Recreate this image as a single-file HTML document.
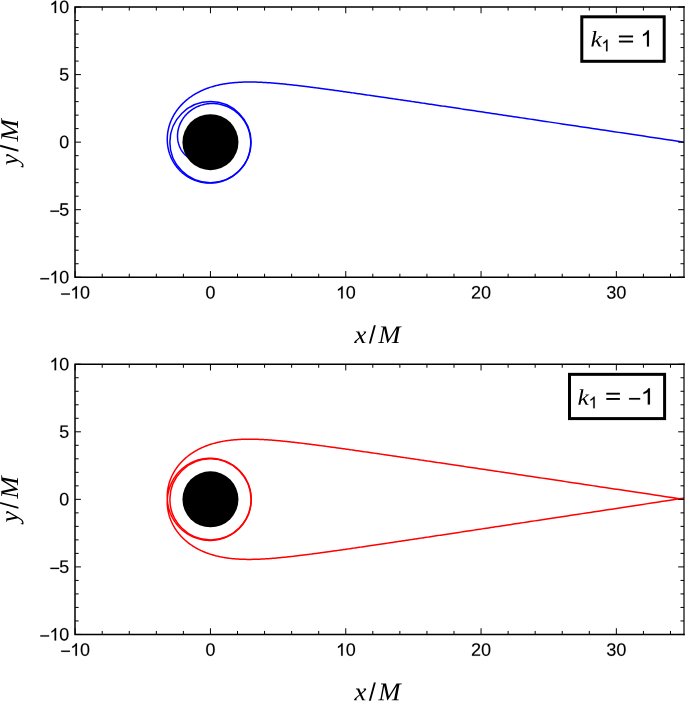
<!DOCTYPE html>
<html><head><meta charset="utf-8"><style>
html,body{margin:0;padding:0;background:#fff;}
body{width:685px;height:701px;overflow:hidden;position:relative;}
svg{position:absolute;left:0;top:0;}
</style></head><body>
<svg width="685" height="701" viewBox="0 0 685 701">
<defs><path id="g0" d="M101 439L1096 439L1096 585L101 585Z"/><path id="g1" d="M793 0L613 0L613 1100Q548 1040 442 980Q336 920 253 890L253 1060Q402 1127 514 1223Q626 1319 673 1409L793 1409Z"/><path id="g2" d="M1059 705Q1059 352 934.5 166.0Q810 -20 567 -20Q324 -20 202.0 165.0Q80 350 80 705Q80 1068 198.5 1249.0Q317 1430 573 1430Q822 1430 940.5 1247.0Q1059 1064 1059 705ZM876 705Q876 1010 805.5 1147.0Q735 1284 573 1284Q407 1284 334.5 1149.0Q262 1014 262 705Q262 405 335.5 266.0Q409 127 569 127Q728 127 802.0 269.0Q876 411 876 705Z"/><path id="g3" d="M103 0V127Q154 244 227.5 333.5Q301 423 382.0 495.5Q463 568 542.5 630.0Q622 692 686.0 754.0Q750 816 789.5 884.0Q829 952 829 1038Q829 1154 761.0 1218.0Q693 1282 572 1282Q457 1282 382.5 1219.5Q308 1157 295 1044L111 1061Q131 1230 254.5 1330.0Q378 1430 572 1430Q785 1430 899.5 1329.5Q1014 1229 1014 1044Q1014 962 976.5 881.0Q939 800 865.0 719.0Q791 638 582 468Q467 374 399.0 298.5Q331 223 301 153H1036V0Z"/><path id="g4" d="M1049 389Q1049 194 925.0 87.0Q801 -20 571 -20Q357 -20 229.5 76.5Q102 173 78 362L264 379Q300 129 571 129Q707 129 784.5 196.0Q862 263 862 395Q862 510 773.5 574.5Q685 639 518 639H416V795H514Q662 795 743.5 859.5Q825 924 825 1038Q825 1151 758.5 1216.5Q692 1282 561 1282Q442 1282 368.5 1221.0Q295 1160 283 1049L102 1063Q122 1236 245.5 1333.0Q369 1430 563 1430Q775 1430 892.5 1331.5Q1010 1233 1010 1057Q1010 922 934.5 837.5Q859 753 715 723V719Q873 702 961.0 613.0Q1049 524 1049 389Z"/><path id="g5" d="M1053 459Q1053 236 920.5 108.0Q788 -20 553 -20Q356 -20 235.0 66.0Q114 152 82 315L264 336Q321 127 557 127Q702 127 784.0 214.5Q866 302 866 455Q866 588 783.5 670.0Q701 752 561 752Q488 752 425.0 729.0Q362 706 299 651H123L170 1409H971V1256H334L307 809Q424 899 598 899Q806 899 929.5 777.0Q1053 655 1053 459Z"/><path id="g6" d="M142 84Q142 56 184 45L176 0H-9Q-25 13 -25 43Q-25 71 6.5 112.0Q38 153 112 221L385 475L213 870L106 895L114 940H362L507 582L631 700Q695 761 721.0 796.0Q747 831 747 856Q747 866 738.0 873.5Q729 881 688 895L696 940H873Q894 924 894 897Q894 838 756 707L542 506L734 66L850 45L842 0H586L419 400L248 236Q193 183 167.5 148.5Q142 114 142 84Z"/><path id="g7" d="M721 0H686L455 1153L266 80L442 53L432 0H-24L-14 53L161 80L370 1262L202 1288L212 1341H594L800 318L1398 1341H1800L1790 1288L1614 1262L1405 80L1573 53L1563 0H1019L1029 53L1213 80L1402 1153Z"/><path id="g8" d="M52 940H308L453 208L688 614Q752 726 752 807Q752 844 731.0 866.0Q710 888 686 895L694 940H884Q910 917 910 877Q910 798 827 657L431 -10Q317 -204 250.5 -285.0Q184 -366 119.0 -404.0Q54 -442 -22 -442Q-103 -442 -171 -424L-134 -221H-89L-73 -317Q-48 -340 9 -340Q144 -340 294 -70L339 12L156 870L44 895Z"/><path id="g9" d="M299 1352 164 1376 172 1421H477L305 453L733 868L639 895L647 940H939L931 895L850 872L556 591L799 68L897 45L889 0H653L435 479L287 340L225 0H59Z"/><path id="g10" d="M763 0L583 0L583 1147Q518 1085 412 1023Q306 961 223 930L223 1104Q372 1174 484 1274Q596 1374 643 1466L763 1466Z"/></defs>
<clipPath id="c0"><rect x="75.15" y="7.05" width="608.85" height="270.20"/></clipPath>
<g clip-path="url(#c0)">
<path d="M684.00 142.15 L677.90 141.24 L671.83 140.33 L665.91 139.44 L660.15 138.58 L654.52 137.74 L649.04 136.91 L643.69 136.11 L638.46 135.33 L633.36 134.57 L628.38 133.82 L623.52 133.09 L618.77 132.38 L614.12 131.69 L609.58 131.01 L605.14 130.34 L600.80 129.69 L596.55 129.05 L592.39 128.43 L588.31 127.82 L584.33 127.23 L580.42 126.64 L576.60 126.07 L572.85 125.51 L569.18 124.96 L565.58 124.42 L562.06 123.89 L558.60 123.37 L555.20 122.87 L551.88 122.37 L548.61 121.88 L545.40 121.40 L542.26 120.93 L539.17 120.47 L536.14 120.02 L533.16 119.57 L530.24 119.13 L527.37 118.70 L524.54 118.28 L521.77 117.87 L519.04 117.46 L516.36 117.06 L513.73 116.67 L511.14 116.28 L508.59 115.90 L506.08 115.52 L503.62 115.16 L501.19 114.79 L498.80 114.44 L496.46 114.09 L494.14 113.74 L491.87 113.40 L489.63 113.07 L487.42 112.74 L485.25 112.41 L483.11 112.09 L481.00 111.78 L478.92 111.47 L476.87 111.16 L474.86 110.86 L472.87 110.57 L470.91 110.27 L468.98 109.99 L467.08 109.70 L465.20 109.42 L463.35 109.15 L461.52 108.88 L459.72 108.61 L457.95 108.34 L456.19 108.08 L454.47 107.82 L452.76 107.57 L451.08 107.32 L449.42 107.07 L447.78 106.83 L446.16 106.59 L444.57 106.35 L442.99 106.12 L441.43 105.89 L439.90 105.66 L438.38 105.43 L436.88 105.21 L435.40 104.99 L433.94 104.77 L432.49 104.56 L431.06 104.35 L429.65 104.14 L428.26 103.93 L426.88 103.73 L425.52 103.52 L424.18 103.32 L422.85 103.13 L421.54 102.93 L420.24 102.74 L418.95 102.55 L417.68 102.36 L416.43 102.18 L415.19 101.99 L413.96 101.81 L412.75 101.63 L411.55 101.46 L410.36 101.28 L409.18 101.11 L408.02 100.93 L406.87 100.76 L405.73 100.60 L404.61 100.43 L403.49 100.27 L402.39 100.10 L401.30 99.94 L400.22 99.78 L399.15 99.63 L398.10 99.47 L397.05 99.32 L396.01 99.17 L394.99 99.01 L393.97 98.87 L392.96 98.72 L391.97 98.57 L390.98 98.43 L390.01 98.28 L389.04 98.14 L388.08 98.00 L387.13 97.86 L386.19 97.72 L385.26 97.59 L384.34 97.45 L383.42 97.32 L382.52 97.19 L381.62 97.06 L380.73 96.93 L379.85 96.80 L378.98 96.67 L378.11 96.54 L377.26 96.42 L376.41 96.30 L375.57 96.17 L374.73 96.05 L373.90 95.93 L373.08 95.81 L372.27 95.69 L371.47 95.58 L370.67 95.46 L369.87 95.35 L368.31 95.12 L366.77 94.90 L365.26 94.68 L363.77 94.46 L362.31 94.25 L360.87 94.05 L359.45 93.84 L358.06 93.64 L356.68 93.44 L355.33 93.25 L354.00 93.06 L352.69 92.87 L351.39 92.69 L350.12 92.51 L348.87 92.33 L347.63 92.16 L346.41 91.98 L345.21 91.81 L344.03 91.65 L342.86 91.48 L341.71 91.32 L340.57 91.16 L339.45 91.01 L338.35 90.85 L337.26 90.70 L336.18 90.55 L335.12 90.40 L334.07 90.26 L333.04 90.11 L332.02 89.97 L331.01 89.84 L330.01 89.70 L329.03 89.56 L328.06 89.43 L327.10 89.30 L326.15 89.17 L325.21 89.05 L324.28 88.92 L323.37 88.80 L322.46 88.68 L321.57 88.56 L320.69 88.44 L319.81 88.32 L318.95 88.21 L318.09 88.10 L317.25 87.99 L316.41 87.88 L315.59 87.77 L314.77 87.66 L313.96 87.56 L313.16 87.45 L311.97 87.30 L310.81 87.15 L309.66 87.01 L308.53 86.86 L307.41 86.72 L306.31 86.58 L305.23 86.45 L304.16 86.32 L303.11 86.19 L302.07 86.06 L301.05 85.94 L300.04 85.82 L299.05 85.70 L298.06 85.59 L297.09 85.47 L296.14 85.36 L295.19 85.25 L294.26 85.15 L293.34 85.04 L292.43 84.94 L291.53 84.84 L290.65 84.74 L289.77 84.65 L288.90 84.56 L288.05 84.47 L287.20 84.38 L286.37 84.29 L285.54 84.21 L284.72 84.12 L283.91 84.04 L283.11 83.96 L282.06 83.86 L281.02 83.76 L280.00 83.66 L278.99 83.57 L277.99 83.48 L277.01 83.39 L276.04 83.31 L275.08 83.23 L274.13 83.15 L273.20 83.08 L272.28 83.00 L271.37 82.94 L270.47 82.87 L269.58 82.80 L268.70 82.74 L267.83 82.69 L266.97 82.63 L266.12 82.58 L265.28 82.53 L264.45 82.48 L263.63 82.43 L262.82 82.39 L262.01 82.35 L261.02 82.30 L260.04 82.26 L259.07 82.22 L258.11 82.18 L257.17 82.15 L256.23 82.12 L255.31 82.10 L254.39 82.07 L253.49 82.06 L252.60 82.04 L251.71 82.03 L250.84 82.02 L249.98 82.02 L249.12 82.02 L248.27 82.02 L247.44 82.03 L246.61 82.04 L245.78 82.05 L244.97 82.07 L244.16 82.09 L243.21 82.11 L242.26 82.15 L241.32 82.18 L240.40 82.22 L239.48 82.27 L238.57 82.32 L237.67 82.38 L236.79 82.44 L235.91 82.50 L235.03 82.57 L234.17 82.65 L233.32 82.72 L232.47 82.81 L231.63 82.89 L230.80 82.99 L229.98 83.08 L229.16 83.18 L228.35 83.29 L227.55 83.40 L226.76 83.51 L225.84 83.65 L224.93 83.79 L224.03 83.94 L223.14 84.10 L222.25 84.26 L221.38 84.43 L220.51 84.60 L219.65 84.78 L218.80 84.97 L217.96 85.16 L217.13 85.36 L216.30 85.56 L215.48 85.77 L214.67 85.98 L213.86 86.20 L213.07 86.43 L212.28 86.66 L211.49 86.90 L210.72 87.14 L209.95 87.39 L209.19 87.65 L208.32 87.95 L207.47 88.25 L206.62 88.56 L205.79 88.88 L204.96 89.21 L204.14 89.55 L203.33 89.89 L202.53 90.24 L201.74 90.59 L200.95 90.96 L200.18 91.33 L199.41 91.71 L198.65 92.09 L197.90 92.48 L197.16 92.88 L196.42 93.29 L195.70 93.70 L194.98 94.12 L194.27 94.55 L193.57 94.98 L192.88 95.42 L192.20 95.86 L191.52 96.32 L190.85 96.78 L190.20 97.24 L189.55 97.71 L188.90 98.19 L188.19 98.74 L187.49 99.29 L186.80 99.86 L186.13 100.42 L185.46 101.00 L184.80 101.59 L184.16 102.18 L183.52 102.78 L182.90 103.38 L182.29 104.00 L181.69 104.62 L181.10 105.25 L180.52 105.88 L179.96 106.52 L179.40 107.17 L178.86 107.82 L178.33 108.48 L177.81 109.15 L177.30 109.82 L176.81 110.50 L176.32 111.18 L175.85 111.87 L175.39 112.56 L174.94 113.26 L174.51 113.97 L174.08 114.68 L173.67 115.40 L173.27 116.12 L172.89 116.84 L172.51 117.57 L172.15 118.30 L171.80 119.04 L171.47 119.78 L171.15 120.52 L170.83 121.27 L170.54 122.02 L170.25 122.78 L169.98 123.54 L169.72 124.30 L169.47 125.06 L169.24 125.83 L168.99 126.68 L168.77 127.54 L168.55 128.40 L168.36 129.26 L168.18 130.12 L168.01 130.98 L167.87 131.85 L167.73 132.72 L167.62 133.59 L167.52 134.45 L167.44 135.32 L167.37 136.19 L167.32 137.06 L167.29 137.93 L167.27 138.80 L167.27 139.66 L167.28 140.53 L167.31 141.39 L167.36 142.25 L167.42 143.11 L167.50 143.97 L167.60 144.82 L167.71 145.67 L167.83 146.52 L167.98 147.37 L168.14 148.21 L168.31 149.04 L168.50 149.87 L168.71 150.70 L168.93 151.52 L169.16 152.34 L169.41 153.15 L169.68 153.96 L169.96 154.76 L170.26 155.55 L170.57 156.34 L170.90 157.12 L171.24 157.90 L171.59 158.66 L171.96 159.42 L172.35 160.17 L172.75 160.91 L173.16 161.65 L173.58 162.37 L174.02 163.09 L174.48 163.80 L174.94 164.49 L175.42 165.18 L175.91 165.86 L176.42 166.53 L176.94 167.19 L177.47 167.84 L178.01 168.47 L178.56 169.10 L179.13 169.71 L179.70 170.32 L180.29 170.91 L180.89 171.49 L181.50 172.06 L182.12 172.61 L182.75 173.15 L183.39 173.68 L184.04 174.20 L184.70 174.70 L185.37 175.20 L186.05 175.67 L186.74 176.14 L187.44 176.59 L188.14 177.02 L188.85 177.44 L189.58 177.85 L190.30 178.25 L191.04 178.63 L191.78 178.99 L192.53 179.34 L193.29 179.67 L194.05 179.99 L194.82 180.30 L195.59 180.59 L196.37 180.86 L197.15 181.12 L197.94 181.36 L198.73 181.59 L199.53 181.80 L200.33 182.00 L201.13 182.18 L201.94 182.34 L202.75 182.49 L203.56 182.62 L204.37 182.74 L205.19 182.84 L206.00 182.92 L206.82 182.99 L207.64 183.04 L208.46 183.08 L209.28 183.10 L210.10 183.10 L210.92 183.09 L211.74 183.06 L212.56 183.01 L213.38 182.95 L214.19 182.87 L215.01 182.78 L215.82 182.67 L216.63 182.54 L217.43 182.40 L218.24 182.24 L219.04 182.07 L219.83 181.88 L220.62 181.67 L221.41 181.45 L222.19 181.22 L222.97 180.97 L223.74 180.70 L224.51 180.42 L225.27 180.12 L226.02 179.81 L226.77 179.48 L227.51 179.14 L228.24 178.78 L228.97 178.41 L229.69 178.03 L230.40 177.63 L231.10 177.21 L231.79 176.79 L232.48 176.35 L233.15 175.89 L233.82 175.42 L234.48 174.94 L235.12 174.45 L235.76 173.95 L236.38 173.43 L237.00 172.90 L237.61 172.35 L238.20 171.80 L238.78 171.23 L239.35 170.66 L239.91 170.07 L240.46 169.47 L240.99 168.86 L241.52 168.24 L242.03 167.61 L242.52 166.97 L243.01 166.31 L243.48 165.65 L243.93 164.99 L244.38 164.31 L244.81 163.62 L245.22 162.93 L245.63 162.22 L246.01 161.51 L246.39 160.80 L246.74 160.07 L247.09 159.34 L247.42 158.60 L247.73 157.86 L248.03 157.10 L248.31 156.35 L248.58 155.59 L248.84 154.82 L249.07 154.05 L249.30 153.27 L249.50 152.49 L249.69 151.71 L249.87 150.92 L250.02 150.13 L250.17 149.34 L250.29 148.54 L250.40 147.74 L250.50 146.94 L250.58 146.14 L250.64 145.34 L250.69 144.53 L250.71 143.73 L250.73 142.92 L250.73 142.12 L250.71 141.31 L250.67 140.51 L250.62 139.71 L250.55 138.91 L250.47 138.11 L250.37 137.31 L250.25 136.52 L250.12 135.73 L249.97 134.94 L249.81 134.15 L249.63 133.37 L249.43 132.59 L249.22 131.82 L249.00 131.05 L248.75 130.29 L248.50 129.53 L248.22 128.78 L247.94 128.03 L247.63 127.29 L247.32 126.55 L246.95 125.75 L246.57 124.96 L246.16 124.18 L245.75 123.41 L245.31 122.64 L244.86 121.89 L244.39 121.15 L243.90 120.42 L243.40 119.70 L242.89 118.99 L242.35 118.29 L241.80 117.61 L241.24 116.94 L240.66 116.28 L240.07 115.64 L239.47 115.01 L238.85 114.39 L238.22 113.79 L237.57 113.20 L236.91 112.63 L236.24 112.07 L235.56 111.53 L234.86 111.00 L234.16 110.49 L233.44 110.00 L232.71 109.52 L231.97 109.06 L231.23 108.62 L230.47 108.19 L229.70 107.78 L228.93 107.39 L228.15 107.02 L227.36 106.66 L226.56 106.32 L225.76 106.01 L224.94 105.71 L224.13 105.42 L223.30 105.16 L222.48 104.92 L221.65 104.69 L220.81 104.49 L219.97 104.30 L219.12 104.13 L218.28 103.99 L217.43 103.86 L216.58 103.75 L215.73 103.66 L214.87 103.59 L214.02 103.54 L213.16 103.51 L212.31 103.50 L211.46 103.51 L210.61 103.54 L209.76 103.59 L208.91 103.65 L208.06 103.74 L207.22 103.85 L206.38 103.97 L205.55 104.12 L204.72 104.28 L203.89 104.46 L203.08 104.67 L202.26 104.89 L201.46 105.12 L200.66 105.38 L199.86 105.66 L199.08 105.95 L198.30 106.26 L197.53 106.59 L196.77 106.94 L196.02 107.30 L195.28 107.68 L194.55 108.08 L193.83 108.49 L193.13 108.92 L192.43 109.37 L191.75 109.83 L191.07 110.31 L190.41 110.80 L189.77 111.30 L189.13 111.82 L188.51 112.36 L187.91 112.91 L187.32 113.47 L186.74 114.04 L186.18 114.63 L185.64 115.23 L185.11 115.84 L184.59 116.46 L184.09 117.10 L183.61 117.74 L183.15 118.39 L182.70 119.06 L182.23 119.79 L181.79 120.53 L181.36 121.29 L180.95 122.05 L180.57 122.82 L180.21 123.60 L179.87 124.39 L179.55 125.18 L179.26 125.98 L178.99 126.79 L178.74 127.60 L178.51 128.41 L178.31 129.23 L178.13 130.05 L177.98 130.87 L177.84 131.69 L177.73 132.51 L177.65 133.34 L177.58 134.16 L177.54 134.98 L177.52 135.80 L177.53 136.61 L177.56 137.43 L177.61 138.24 L177.68 139.04 L177.78 139.84 L177.90 140.63 L178.05 141.48 L178.23 142.32 L178.44 143.15 L178.66 143.97 L178.92 144.77 L179.19 145.57 L179.50 146.35 L179.82 147.12 L180.17 147.88 L180.54 148.62 L180.93 149.34 L181.34 150.04 L181.77 150.73 L182.22 151.40 L182.69 152.06 L183.21 152.73 L183.76 153.39 L184.33 154.02 L184.91 154.63 L185.51 155.21 L186.13 155.77 L186.76 156.30 L187.41 156.81 L188.00 157.23" fill="none" stroke="#0000ff" stroke-width="1.5" stroke-linejoin="round"/>
<ellipse cx="210.45" cy="142.15" rx="40.59" ry="40.53" fill="none" stroke="#0000ff" stroke-width="1.5"/>
<circle cx="210.45" cy="142.15" r="28.0" fill="#000"/>
</g>
<path d="M684.00 7.05H75.00V277.25H684.00" fill="none" stroke="#000" stroke-width="1.5" stroke-linecap="square"/>
<path d="M684.00 6.30V278.00" fill="none" stroke="#000" stroke-opacity="0.8" stroke-width="1.5"/>
<path d="M75.15 277.25v-6.2M75.15 7.05v6.2M102.21 277.25v-3.5M102.21 7.05v3.5M129.27 277.25v-3.5M129.27 7.05v3.5M156.33 277.25v-3.5M156.33 7.05v3.5M183.39 277.25v-3.5M183.39 7.05v3.5M210.45 277.25v-6.2M210.45 7.05v6.2M237.51 277.25v-3.5M237.51 7.05v3.5M264.57 277.25v-3.5M264.57 7.05v3.5M291.63 277.25v-3.5M291.63 7.05v3.5M318.69 277.25v-3.5M318.69 7.05v3.5M345.75 277.25v-6.2M345.75 7.05v6.2M372.81 277.25v-3.5M372.81 7.05v3.5M399.87 277.25v-3.5M399.87 7.05v3.5M426.93 277.25v-3.5M426.93 7.05v3.5M453.99 277.25v-3.5M453.99 7.05v3.5M481.05 277.25v-6.2M481.05 7.05v6.2M508.11 277.25v-3.5M508.11 7.05v3.5M535.17 277.25v-3.5M535.17 7.05v3.5M562.23 277.25v-3.5M562.23 7.05v3.5M589.29 277.25v-3.5M589.29 7.05v3.5M616.35 277.25v-6.2M616.35 7.05v6.2M643.41 277.25v-3.5M643.41 7.05v3.5M670.47 277.25v-3.5M670.47 7.05v3.5M75.15 277.25h5.8M684.00 277.25h-5.8M75.15 263.74h3.5M684.00 263.74h-3.5M75.15 250.23h3.5M684.00 250.23h-3.5M75.15 236.72h3.5M684.00 236.72h-3.5M75.15 223.21h3.5M684.00 223.21h-3.5M75.15 209.70h5.8M684.00 209.70h-5.8M75.15 196.19h3.5M684.00 196.19h-3.5M75.15 182.68h3.5M684.00 182.68h-3.5M75.15 169.17h3.5M684.00 169.17h-3.5M75.15 155.66h3.5M684.00 155.66h-3.5M75.15 142.15h5.8M684.00 142.15h-5.8M75.15 128.64h3.5M684.00 128.64h-3.5M75.15 115.13h3.5M684.00 115.13h-3.5M75.15 101.62h3.5M684.00 101.62h-3.5M75.15 88.11h3.5M684.00 88.11h-3.5M75.15 74.60h5.8M684.00 74.60h-5.8M75.15 61.09h3.5M684.00 61.09h-3.5M75.15 47.58h3.5M684.00 47.58h-3.5M75.15 34.07h3.5M684.00 34.07h-3.5M75.15 20.56h3.5M684.00 20.56h-3.5M75.15 7.05h5.8M684.00 7.05h-5.8" stroke="#000" stroke-width="1" fill="none"/>
<use href="#g0" stroke="#000" stroke-width="17.1" transform="translate(60.28 298.55) scale(0.00879 -0.00879)"/><use href="#g1" stroke="#000" stroke-width="17.1" transform="translate(70.00 298.55) scale(0.00879 -0.00879)"/><use href="#g2" stroke="#000" stroke-width="17.1" transform="translate(80.01 298.55) scale(0.00879 -0.00879)"/>
<use href="#g2" stroke="#000" stroke-width="17.1" transform="translate(205.44 298.55) scale(0.00879 -0.00879)"/>
<use href="#g1" stroke="#000" stroke-width="17.1" transform="translate(335.74 298.55) scale(0.00879 -0.00879)"/><use href="#g2" stroke="#000" stroke-width="17.1" transform="translate(345.75 298.55) scale(0.00879 -0.00879)"/>
<use href="#g3" stroke="#000" stroke-width="17.1" transform="translate(471.04 298.55) scale(0.00879 -0.00879)"/><use href="#g2" stroke="#000" stroke-width="17.1" transform="translate(481.05 298.55) scale(0.00879 -0.00879)"/>
<use href="#g4" stroke="#000" stroke-width="17.1" transform="translate(606.34 298.55) scale(0.00879 -0.00879)"/><use href="#g2" stroke="#000" stroke-width="17.1" transform="translate(616.35 298.55) scale(0.00879 -0.00879)"/>
<use href="#g0" stroke="#000" stroke-width="17.1" transform="translate(39.46 283.25) scale(0.00879 -0.00879)"/><use href="#g1" stroke="#000" stroke-width="17.1" transform="translate(49.18 283.25) scale(0.00879 -0.00879)"/><use href="#g2" stroke="#000" stroke-width="17.1" transform="translate(59.19 283.25) scale(0.00879 -0.00879)"/>
<use href="#g0" stroke="#000" stroke-width="17.1" transform="translate(49.47 215.70) scale(0.00879 -0.00879)"/><use href="#g5" stroke="#000" stroke-width="17.1" transform="translate(59.19 215.70) scale(0.00879 -0.00879)"/>
<use href="#g2" stroke="#000" stroke-width="17.1" transform="translate(59.19 148.15) scale(0.00879 -0.00879)"/>
<use href="#g5" stroke="#000" stroke-width="17.1" transform="translate(59.19 80.60) scale(0.00879 -0.00879)"/>
<use href="#g1" stroke="#000" stroke-width="17.1" transform="translate(49.18 13.05) scale(0.00879 -0.00879)"/><use href="#g2" stroke="#000" stroke-width="17.1" transform="translate(59.19 13.05) scale(0.00879 -0.00879)"/>
<use href="#g6" transform="translate(354.40 343.10) scale(0.01320 -0.01245)"/>
<path d="M368.90 343.50h1.9l5.0 -18.3h-1.9z"/>
<use href="#g7" transform="translate(378.30 343.10) scale(0.01307 -0.01245)"/>
<g transform="translate(18.0 165.25) rotate(-90)"><use href="#g8" transform="translate(0.00 0.00) scale(0.01245 -0.01245)"/><path d="M13.60 0.40h1.9l5.0 -18.3h-1.9z"/><use href="#g7" transform="translate(23.80 0.00) scale(0.01307 -0.01245)"/></g>
<rect x="581.80" y="16.80" width="82.40" height="44.50" fill="#fff" stroke="#000" stroke-width="3"/>
<use href="#g9" transform="translate(590.60 46.50) scale(0.01236 -0.01094)"/>
<use href="#g10" stroke="#000" stroke-width="18.7" transform="translate(601.40 51.30) scale(0.00801 -0.00801)"/>
<rect x="618.90" y="35.50" width="14.20" height="1.9"/><rect x="618.90" y="40.60" width="14.20" height="1.9"/>
<use href="#g10" stroke="#000" stroke-width="13.5" transform="translate(640.50 46.60) scale(0.01108 -0.01108)"/>
<clipPath id="c1"><rect x="75.15" y="364.25" width="608.85" height="270.20"/></clipPath>
<g clip-path="url(#c1)">
<path d="M684.00 499.35 L677.91 498.44 L671.83 497.53 L665.92 496.64 L660.15 495.78 L654.53 494.94 L649.04 494.11 L643.69 493.31 L638.47 492.53 L633.37 491.77 L628.39 491.02 L623.53 490.29 L618.78 489.58 L614.13 488.89 L609.59 488.21 L605.15 487.54 L600.81 486.89 L596.56 486.25 L592.40 485.63 L588.33 485.02 L584.34 484.42 L580.44 483.84 L576.62 483.27 L572.87 482.71 L569.20 482.16 L565.60 481.62 L562.07 481.09 L558.62 480.57 L555.22 480.07 L551.89 479.57 L548.63 479.08 L545.42 478.60 L542.28 478.13 L539.19 477.67 L536.16 477.21 L533.18 476.77 L530.26 476.33 L527.39 475.90 L524.56 475.48 L521.79 475.07 L519.06 474.66 L516.38 474.26 L513.75 473.86 L511.16 473.48 L508.61 473.10 L506.10 472.72 L503.64 472.35 L501.21 471.99 L498.83 471.63 L496.48 471.28 L494.17 470.94 L491.89 470.60 L489.65 470.26 L487.44 469.93 L485.27 469.61 L483.13 469.29 L481.02 468.98 L478.94 468.67 L476.90 468.36 L474.88 468.06 L472.89 467.76 L470.93 467.47 L469.00 467.18 L467.10 466.90 L465.22 466.62 L463.37 466.34 L461.55 466.07 L459.75 465.80 L457.97 465.54 L456.22 465.28 L454.49 465.02 L452.79 464.77 L451.10 464.52 L449.44 464.27 L447.80 464.03 L446.19 463.79 L444.59 463.55 L443.01 463.31 L441.46 463.08 L439.92 462.85 L438.40 462.63 L436.90 462.41 L435.42 462.19 L433.96 461.97 L432.52 461.75 L431.09 461.54 L429.68 461.33 L428.29 461.13 L426.91 460.92 L425.55 460.72 L424.20 460.52 L422.87 460.32 L421.56 460.13 L420.26 459.94 L418.98 459.75 L417.71 459.56 L416.45 459.37 L415.21 459.19 L413.98 459.01 L412.77 458.83 L411.57 458.65 L410.38 458.47 L409.21 458.30 L408.04 458.13 L406.90 457.96 L405.76 457.79 L404.63 457.63 L403.52 457.46 L402.42 457.30 L401.33 457.14 L400.25 456.98 L399.18 456.82 L398.12 456.67 L397.07 456.51 L396.04 456.36 L395.01 456.21 L393.99 456.06 L392.99 455.91 L391.99 455.77 L391.01 455.62 L390.03 455.48 L389.06 455.34 L388.10 455.20 L387.15 455.06 L386.21 454.92 L385.28 454.78 L384.36 454.65 L383.45 454.51 L382.54 454.38 L381.64 454.25 L380.76 454.12 L379.87 453.99 L379.00 453.86 L378.14 453.74 L377.28 453.61 L376.43 453.49 L375.59 453.37 L374.75 453.25 L373.93 453.13 L373.11 453.01 L372.29 452.89 L371.49 452.77 L370.69 452.65 L369.90 452.54 L368.33 452.31 L366.79 452.09 L365.28 451.87 L363.79 451.66 L362.33 451.45 L360.89 451.24 L359.47 451.03 L358.08 450.83 L356.70 450.64 L355.35 450.44 L354.02 450.25 L352.71 450.07 L351.41 449.88 L350.14 449.70 L348.89 449.52 L347.65 449.35 L346.43 449.18 L345.23 449.01 L344.05 448.84 L342.88 448.68 L341.73 448.51 L340.59 448.35 L339.47 448.20 L338.37 448.04 L337.28 447.89 L336.20 447.74 L335.14 447.59 L334.09 447.45 L333.06 447.31 L332.03 447.17 L331.03 447.03 L330.03 446.89 L329.05 446.76 L328.07 446.62 L327.11 446.49 L326.17 446.37 L325.23 446.24 L324.30 446.11 L323.39 445.99 L322.48 445.87 L321.59 445.75 L320.70 445.63 L319.83 445.52 L318.97 445.40 L318.11 445.29 L317.27 445.18 L316.43 445.07 L315.60 444.96 L314.79 444.85 L313.98 444.75 L313.18 444.64 L311.99 444.49 L310.82 444.34 L309.67 444.20 L308.54 444.05 L307.43 443.91 L306.33 443.78 L305.24 443.64 L304.18 443.51 L303.13 443.38 L302.09 443.25 L301.06 443.13 L300.06 443.01 L299.06 442.89 L298.08 442.78 L297.11 442.66 L296.15 442.55 L295.21 442.44 L294.28 442.34 L293.35 442.23 L292.45 442.13 L291.55 442.03 L290.66 441.94 L289.78 441.84 L288.92 441.75 L288.06 441.66 L287.21 441.57 L286.38 441.48 L285.55 441.40 L284.73 441.31 L283.92 441.23 L283.12 441.15 L282.07 441.05 L281.03 440.95 L280.01 440.85 L279.00 440.76 L278.00 440.67 L277.02 440.58 L276.05 440.50 L275.09 440.42 L274.15 440.34 L273.21 440.27 L272.29 440.19 L271.38 440.12 L270.48 440.06 L269.59 439.99 L268.71 439.93 L267.84 439.87 L266.98 439.82 L266.13 439.77 L265.29 439.71 L264.46 439.67 L263.64 439.62 L262.83 439.58 L262.02 439.54 L261.03 439.49 L260.05 439.45 L259.08 439.41 L258.12 439.37 L257.18 439.34 L256.24 439.31 L255.32 439.28 L254.40 439.26 L253.50 439.24 L252.61 439.23 L251.72 439.22 L250.85 439.21 L249.98 439.21 L249.13 439.21 L248.28 439.21 L247.44 439.22 L246.61 439.23 L245.79 439.24 L244.98 439.25 L244.17 439.27 L243.21 439.30 L242.27 439.33 L241.33 439.37 L240.40 439.41 L239.49 439.46 L238.58 439.51 L237.68 439.57 L236.79 439.63 L235.91 439.69 L235.04 439.76 L234.18 439.83 L233.32 439.91 L232.48 439.99 L231.64 440.08 L230.81 440.17 L229.98 440.27 L229.17 440.37 L228.36 440.47 L227.55 440.58 L226.76 440.70 L225.84 440.84 L224.93 440.98 L224.03 441.13 L223.14 441.29 L222.26 441.45 L221.38 441.62 L220.51 441.79 L219.66 441.97 L218.80 442.16 L217.96 442.35 L217.13 442.54 L216.30 442.75 L215.48 442.96 L214.67 443.17 L213.86 443.39 L213.07 443.62 L212.28 443.85 L211.49 444.09 L210.72 444.33 L209.95 444.58 L209.19 444.83 L208.32 445.13 L207.47 445.44 L206.62 445.75 L205.79 446.07 L204.96 446.40 L204.14 446.73 L203.33 447.08 L202.53 447.42 L201.74 447.78 L200.95 448.14 L200.17 448.52 L199.41 448.89 L198.65 449.28 L197.90 449.67 L197.15 450.07 L196.42 450.47 L195.69 450.89 L194.98 451.31 L194.27 451.73 L193.57 452.17 L192.87 452.60 L192.19 453.05 L191.51 453.50 L190.85 453.96 L190.19 454.43 L189.54 454.90 L188.90 455.38 L188.19 455.93 L187.49 456.48 L186.80 457.04 L186.12 457.61 L185.45 458.19 L184.79 458.77 L184.15 459.37 L183.51 459.96 L182.89 460.57 L182.28 461.18 L181.68 461.81 L181.09 462.43 L180.51 463.07 L179.94 463.71 L179.39 464.35 L178.85 465.01 L178.32 465.67 L177.80 466.33 L177.29 467.01 L176.79 467.69 L176.31 468.37 L175.84 469.06 L175.38 469.75 L174.93 470.45 L174.49 471.16 L174.07 471.87 L173.66 472.58 L173.26 473.30 L172.87 474.03 L172.50 474.76 L172.14 475.49 L171.79 476.23 L171.45 476.97 L171.13 477.71 L170.82 478.46 L170.52 479.21 L170.23 479.97 L169.96 480.73 L169.70 481.49 L169.45 482.25 L169.22 483.02 L168.97 483.87 L168.74 484.73 L168.53 485.59 L168.34 486.45 L168.15 487.31 L167.99 488.18 L167.84 489.05 L167.71 489.91 L167.59 490.78 L167.49 491.65 L167.41 492.52 L167.34 493.39 L167.29 494.26 L167.26 495.13 L167.24 495.99 L167.24 496.86 L167.25 497.73 L167.28 498.59 L167.33 499.45 L167.39 500.31 L167.47 501.17 L167.57 502.02 L167.68 502.88 L167.80 503.72 L167.95 504.57 L168.10 505.41 L168.28 506.25 L168.47 507.08 L168.67 507.91 L168.89 508.73 L169.13 509.55 L169.38 510.36 L169.65 511.17 L169.93 511.97 L170.22 512.77 L170.54 513.55 L170.86 514.34 L171.20 515.11 L171.56 515.88 L171.93 516.64 L172.31 517.39 L172.71 518.13 L173.12 518.87 L173.55 519.59 L173.99 520.31 L174.44 521.02 L174.90 521.72 L175.38 522.41 L175.88 523.09 L176.38 523.76 L176.90 524.42 L177.43 525.07 L177.97 525.70 L178.52 526.33 L179.09 526.95 L179.66 527.55 L180.25 528.15 L180.85 528.73 L181.46 529.30 L182.08 529.85 L182.71 530.40 L183.35 530.93 L184.00 531.45 L184.67 531.95 L185.34 532.44 L186.02 532.92 L186.70 533.39 L187.40 533.84 L188.11 534.28 L188.82 534.70 L189.54 535.11 L190.27 535.51 L191.01 535.89 L191.75 536.26 L192.50 536.61 L193.25 536.94 L194.02 537.27 L194.79 537.57 L195.56 537.86 L196.34 538.14 L197.12 538.40 L197.91 538.65 L198.71 538.87 L199.50 539.09 L200.30 539.29 L201.11 539.47 L201.92 539.64 L202.73 539.79 L203.54 539.92 L204.36 540.04 L205.17 540.14 L205.99 540.23 L206.81 540.30 L207.64 540.35 L208.46 540.39 L209.28 540.41 L210.10 540.41 L210.93 540.40 L211.75 540.38 L212.57 540.33 L213.39 540.27 L214.21 540.20 L215.02 540.10 L215.84 540.00 L216.65 539.87 L217.46 539.73 L218.26 539.58 L219.07 539.41 L219.86 539.22 L220.66 539.01 L221.45 538.80 L222.24 538.56 L223.02 538.31 L223.79 538.05 L224.56 537.77 L225.33 537.47 L226.08 537.16 L226.84 536.83 L227.58 536.49 L228.32 536.14 L229.05 535.77 L229.77 535.39 L230.49 534.99 L231.19 534.58 L231.89 534.15 L232.58 533.71 L233.26 533.26 L233.94 532.79 L234.60 532.31 L235.25 531.82 L235.89 531.32 L236.53 530.80 L237.15 530.27 L237.76 529.73 L238.36 529.17 L238.95 528.60 L239.53 528.03 L240.09 527.44 L240.65 526.84 L241.19 526.23 L241.72 525.61 L242.24 524.98 L242.74 524.33 L243.23 523.68 L243.71 523.02 L244.17 522.35 L244.63 521.67 L245.06 520.98 L245.49 520.29 L245.90 519.58 L246.30 518.87 L246.68 518.15 L247.04 517.42 L247.40 516.68 L247.74 515.94 L248.06 515.19 L248.37 514.44 L248.66 513.68 L248.94 512.91 L249.20 512.14 L249.45 511.36 L249.68 510.58 L249.89 509.80 L250.10 509.01 L250.28 508.21 L250.45 507.41 L250.60 506.61 L250.74 505.81 L250.86 505.00 L250.96 504.20 L251.05 503.39 L251.12 502.57 L251.18 501.76 L251.22 500.95 L251.24 500.13 L251.25 499.32 L251.24 498.50 L251.22 497.69 L251.18 496.88 L251.12 496.06 L251.05 495.25 L250.96 494.44 L250.85 493.63 L250.73 492.83 L250.59 492.02 L250.44 491.22 L250.27 490.43 L250.08 489.63 L249.88 488.84 L249.66 488.06 L249.43 487.28 L249.18 486.50 L248.92 485.73 L248.64 484.96 L248.34 484.20 L248.03 483.45 L247.71 482.70 L247.37 481.96 L247.02 481.22 L246.65 480.50 L246.26 479.78 L245.87 479.06 L245.46 478.36 L245.03 477.66 L244.59 476.98 L244.14 476.30 L243.67 475.63 L243.19 474.97 L242.70 474.32 L242.20 473.68 L241.68 473.05 L241.15 472.42 L240.60 471.81 L240.05 471.22 L239.48 470.63 L238.90 470.05 L238.31 469.49 L237.71 468.93 L237.10 468.39 L236.48 467.86 L235.84 467.35 L235.20 466.84 L234.55 466.35 L233.88 465.87 L233.21 465.41 L232.53 464.95 L231.84 464.52 L231.14 464.09 L230.43 463.68 L229.72 463.28 L228.99 462.90 L228.26 462.53 L227.52 462.18 L226.78 461.84 L226.03 461.52 L225.27 461.21 L224.50 460.91 L223.73 460.63 L222.96 460.37 L222.17 460.12 L221.39 459.89 L220.60 459.67 L219.80 459.47 L219.00 459.28 L218.20 459.11 L217.40 458.96 L216.59 458.82 L215.77 458.70 L214.96 458.59 L214.14 458.50 L213.32 458.42 L212.51 458.37 L211.68 458.32 L210.86 458.30 L210.04 458.29 L209.22 458.29 L208.39 458.32 L207.57 458.35 L206.75 458.41 L205.93 458.48 L205.11 458.57 L204.29 458.67 L203.48 458.79 L202.67 458.93 L201.85 459.08 L201.05 459.25 L200.24 459.43 L199.44 459.63 L198.64 459.84 L197.85 460.07 L197.06 460.32 L196.28 460.58 L195.50 460.86 L194.73 461.15 L193.96 461.46 L193.20 461.78 L192.44 462.12 L191.69 462.47 L190.95 462.84 L190.21 463.22 L189.49 463.62 L188.76 464.03 L188.05 464.46 L187.35 464.89 L186.65 465.35 L185.96 465.81 L185.29 466.29 L184.62 466.79 L183.96 467.29 L183.31 467.81 L182.67 468.35 L182.04 468.89 L181.42 469.45 L180.81 470.02 L180.21 470.60 L179.62 471.20 L179.05 471.80 L178.48 472.42 L177.93 473.05 L177.39 473.68 L176.86 474.33 L176.34 474.99 L175.84 475.67 L175.35 476.35 L174.87 477.04 L174.41 477.74 L173.96 478.45 L173.52 479.16 L173.09 479.89 L172.68 480.63 L172.29 481.37 L171.90 482.12 L171.53 482.88 L171.18 483.65 L170.84 484.43 L170.52 485.21 L170.21 486.00 L169.91 486.79 L169.63 487.59 L169.37 488.40 L169.12 489.21 L168.88 490.03 L168.66 490.86 L168.46 491.68 L168.27 492.52 L168.10 493.35 L167.94 494.20 L167.80 495.04 L167.67 495.89 L167.56 496.74 L167.47 497.60 L167.39 498.45 L167.33 499.31 L167.29 500.18 L167.26 501.04 L167.25 501.91 L167.25 502.77 L167.27 503.64 L167.31 504.51 L167.36 505.38 L167.43 506.25 L167.51 507.12 L167.61 507.98 L167.73 508.85 L167.86 509.72 L168.01 510.59 L168.18 511.45 L168.36 512.31 L168.56 513.17 L168.77 514.03 L169.00 514.89 L169.25 515.74 L169.48 516.51 L169.73 517.27 L169.99 518.03 L170.27 518.79 L170.55 519.55 L170.85 520.30 L171.16 521.04 L171.49 521.79 L171.83 522.53 L172.18 523.27 L172.54 524.00 L172.92 524.73 L173.30 525.45 L173.70 526.17 L174.12 526.88 L174.54 527.59 L174.98 528.30 L175.43 529.00 L175.89 529.69 L176.36 530.38 L176.85 531.06 L177.34 531.74 L177.85 532.41 L178.37 533.08 L178.90 533.73 L179.45 534.39 L180.00 535.03 L180.57 535.67 L181.15 536.31 L181.74 536.93 L182.34 537.55 L182.95 538.16 L183.58 538.77 L184.21 539.37 L184.86 539.96 L185.52 540.54 L186.19 541.12 L186.87 541.69 L187.56 542.25 L188.26 542.80 L188.97 543.34 L189.61 543.82 L190.26 544.29 L190.92 544.76 L191.59 545.22 L192.27 545.67 L192.95 546.11 L193.64 546.55 L194.34 546.98 L195.05 547.41 L195.77 547.82 L196.50 548.24 L197.23 548.64 L197.98 549.04 L198.73 549.43 L199.49 549.81 L200.26 550.19 L201.03 550.56 L201.82 550.92 L202.61 551.27 L203.41 551.62 L204.22 551.96 L205.04 552.29 L205.87 552.62 L206.71 552.94 L207.55 553.25 L208.41 553.55 L209.27 553.85 L210.03 554.10 L210.80 554.35 L211.58 554.59 L212.36 554.83 L213.15 555.06 L213.95 555.28 L214.75 555.50 L215.57 555.72 L216.39 555.92 L217.21 556.12 L218.05 556.32 L218.89 556.51 L219.74 556.69 L220.60 556.87 L221.47 557.04 L222.34 557.21 L223.22 557.37 L224.11 557.52 L225.02 557.67 L225.92 557.81 L226.84 557.95 L227.64 558.06 L228.44 558.17 L229.25 558.27 L230.06 558.37 L230.89 558.47 L231.72 558.56 L232.56 558.64 L233.40 558.72 L234.26 558.80 L235.12 558.87 L235.99 558.94 L236.87 559.00 L237.76 559.06 L238.65 559.11 L239.56 559.16 L240.48 559.21 L241.40 559.25 L242.34 559.28 L243.29 559.31 L244.24 559.34 L245.05 559.35 L245.86 559.37 L246.68 559.38 L247.51 559.39 L248.35 559.39 L249.20 559.39 L250.05 559.39 L250.91 559.38 L251.79 559.38 L252.67 559.36 L253.56 559.35 L254.46 559.33 L255.38 559.30 L256.30 559.28 L257.23 559.24 L258.18 559.21 L259.13 559.17 L260.10 559.13 L261.08 559.08 L262.08 559.04 L262.88 558.99 L263.69 558.95 L264.51 558.90 L265.34 558.85 L266.18 558.80 L267.03 558.74 L267.88 558.69 L268.75 558.63 L269.63 558.56 L270.52 558.50 L271.42 558.43 L272.32 558.36 L273.24 558.28 L274.18 558.21 L275.12 558.13 L276.08 558.04 L277.04 557.96 L278.03 557.87 L279.02 557.78 L280.03 557.68 L281.05 557.58 L282.09 557.48 L283.14 557.37 L283.94 557.29 L284.74 557.21 L285.56 557.13 L286.38 557.04 L287.22 556.95 L288.06 556.86 L288.92 556.77 L289.78 556.67 L290.66 556.58 L291.54 556.48 L292.44 556.37 L293.34 556.27 L294.26 556.17 L295.19 556.06 L296.13 555.95 L297.09 555.83 L298.06 555.72 L299.04 555.60 L300.03 555.48 L301.03 555.36 L302.06 555.23 L303.09 555.10 L304.14 554.97 L305.20 554.84 L306.28 554.70 L307.38 554.56 L308.49 554.42 L309.62 554.27 L310.77 554.13 L311.93 553.97 L313.11 553.82 L313.91 553.71 L314.72 553.61 L315.53 553.50 L316.36 553.39 L317.19 553.28 L318.03 553.16 L318.88 553.05 L319.74 552.93 L320.62 552.82 L321.50 552.70 L322.39 552.57 L323.29 552.45 L324.20 552.33 L325.12 552.20 L326.06 552.07 L327.00 551.94 L327.96 551.81 L328.93 551.67 L329.91 551.54 L330.90 551.40 L331.91 551.26 L332.93 551.11 L333.96 550.97 L335.00 550.82 L336.06 550.67 L337.13 550.52 L338.22 550.37 L339.32 550.21 L340.43 550.05 L341.57 549.89 L342.71 549.73 L343.88 549.56 L345.05 549.39 L346.25 549.22 L347.46 549.04 L348.69 548.87 L349.94 548.69 L351.21 548.50 L352.50 548.32 L353.80 548.13 L355.13 547.93 L356.48 547.74 L357.84 547.54 L359.23 547.33 L360.64 547.13 L362.08 546.92 L363.54 546.70 L365.02 546.49 L366.52 546.27 L368.05 546.04 L369.61 545.81 L371.19 545.58 L372.00 545.46 L372.80 545.34 L373.62 545.22 L374.44 545.10 L375.27 544.97 L376.11 544.85 L376.96 544.72 L377.81 544.60 L378.67 544.47 L379.54 544.34 L380.42 544.21 L381.30 544.08 L382.19 543.95 L383.09 543.81 L384.00 543.68 L384.92 543.54 L385.85 543.40 L386.78 543.26 L387.73 543.12 L388.68 542.98 L389.64 542.84 L390.61 542.69 L391.59 542.54 L392.58 542.40 L393.58 542.25 L394.59 542.10 L395.62 541.94 L396.65 541.79 L397.69 541.63 L398.74 541.47 L399.80 541.32 L400.87 541.15 L401.96 540.99 L403.06 540.83 L404.16 540.66 L405.28 540.49 L406.41 540.32 L407.56 540.15 L408.71 539.98 L409.88 539.80 L411.06 539.62 L412.25 539.45 L413.46 539.26 L414.68 539.08 L415.91 538.89 L417.16 538.71 L418.42 538.52 L419.70 538.32 L420.99 538.13 L422.29 537.93 L423.61 537.73 L424.95 537.53 L426.30 537.33 L427.67 537.12 L429.05 536.91 L430.46 536.70 L431.87 536.49 L433.31 536.27 L434.76 536.05 L436.23 535.83 L437.72 535.60 L439.23 535.38 L440.75 535.14 L442.30 534.91 L443.86 534.67 L445.45 534.43 L447.06 534.19 L448.68 533.94 L450.33 533.69 L452.00 533.44 L453.70 533.19 L455.41 532.93 L457.15 532.66 L458.91 532.39 L460.70 532.12 L462.51 531.85 L464.35 531.57 L466.21 531.29 L468.10 531.00 L470.02 530.71 L471.96 530.42 L473.93 530.12 L475.93 529.81 L477.96 529.50 L480.02 529.19 L482.11 528.87 L484.24 528.55 L486.39 528.22 L488.58 527.89 L490.80 527.55 L493.06 527.21 L495.35 526.86 L497.68 526.51 L500.05 526.15 L502.45 525.78 L504.90 525.41 L507.38 525.04 L509.90 524.65 L512.47 524.26 L515.08 523.86 L517.74 523.46 L520.44 523.05 L523.19 522.63 L525.98 522.21 L528.83 521.77 L531.72 521.33 L534.67 520.88 L537.68 520.43 L540.73 519.96 L543.85 519.49 L547.02 519.00 L550.25 518.51 L553.55 518.01 L556.90 517.50 L560.33 516.98 L563.82 516.45 L567.38 515.90 L571.01 515.35 L574.71 514.79 L578.50 514.21 L582.36 513.62 L586.30 513.02 L590.32 512.41 L594.43 511.78 L598.64 511.14 L602.93 510.49 L607.32 509.82 L611.80 509.14 L616.39 508.44 L621.09 507.72 L625.89 506.99 L630.81 506.24 L635.84 505.47 L641.00 504.69 L646.28 503.88 L651.69 503.06 L657.24 502.21 L662.93 501.34 L668.76 500.46 L674.75 499.54 L680.90 498.61 L684.00 498.13 L684.00 498.13" fill="none" stroke="#ff0000" stroke-width="1.5" stroke-linejoin="round"/>
<ellipse cx="210.45" cy="499.35" rx="40.59" ry="40.53" fill="none" stroke="#ff0000" stroke-width="1.5"/>
<circle cx="210.45" cy="499.35" r="28.0" fill="#000"/>
</g>
<path d="M684.00 364.25H75.00V634.45H684.00" fill="none" stroke="#000" stroke-width="1.5" stroke-linecap="square"/>
<path d="M684.00 363.50V635.20" fill="none" stroke="#000" stroke-opacity="0.8" stroke-width="1.5"/>
<path d="M75.15 634.45v-6.2M75.15 364.25v6.2M102.21 634.45v-3.5M102.21 364.25v3.5M129.27 634.45v-3.5M129.27 364.25v3.5M156.33 634.45v-3.5M156.33 364.25v3.5M183.39 634.45v-3.5M183.39 364.25v3.5M210.45 634.45v-6.2M210.45 364.25v6.2M237.51 634.45v-3.5M237.51 364.25v3.5M264.57 634.45v-3.5M264.57 364.25v3.5M291.63 634.45v-3.5M291.63 364.25v3.5M318.69 634.45v-3.5M318.69 364.25v3.5M345.75 634.45v-6.2M345.75 364.25v6.2M372.81 634.45v-3.5M372.81 364.25v3.5M399.87 634.45v-3.5M399.87 364.25v3.5M426.93 634.45v-3.5M426.93 364.25v3.5M453.99 634.45v-3.5M453.99 364.25v3.5M481.05 634.45v-6.2M481.05 364.25v6.2M508.11 634.45v-3.5M508.11 364.25v3.5M535.17 634.45v-3.5M535.17 364.25v3.5M562.23 634.45v-3.5M562.23 364.25v3.5M589.29 634.45v-3.5M589.29 364.25v3.5M616.35 634.45v-6.2M616.35 364.25v6.2M643.41 634.45v-3.5M643.41 364.25v3.5M670.47 634.45v-3.5M670.47 364.25v3.5M75.15 634.45h5.8M684.00 634.45h-5.8M75.15 620.94h3.5M684.00 620.94h-3.5M75.15 607.43h3.5M684.00 607.43h-3.5M75.15 593.92h3.5M684.00 593.92h-3.5M75.15 580.41h3.5M684.00 580.41h-3.5M75.15 566.90h5.8M684.00 566.90h-5.8M75.15 553.39h3.5M684.00 553.39h-3.5M75.15 539.88h3.5M684.00 539.88h-3.5M75.15 526.37h3.5M684.00 526.37h-3.5M75.15 512.86h3.5M684.00 512.86h-3.5M75.15 499.35h5.8M684.00 499.35h-5.8M75.15 485.84h3.5M684.00 485.84h-3.5M75.15 472.33h3.5M684.00 472.33h-3.5M75.15 458.82h3.5M684.00 458.82h-3.5M75.15 445.31h3.5M684.00 445.31h-3.5M75.15 431.80h5.8M684.00 431.80h-5.8M75.15 418.29h3.5M684.00 418.29h-3.5M75.15 404.78h3.5M684.00 404.78h-3.5M75.15 391.27h3.5M684.00 391.27h-3.5M75.15 377.76h3.5M684.00 377.76h-3.5M75.15 364.25h5.8M684.00 364.25h-5.8" stroke="#000" stroke-width="1" fill="none"/>
<use href="#g0" stroke="#000" stroke-width="17.1" transform="translate(60.28 655.75) scale(0.00879 -0.00879)"/><use href="#g1" stroke="#000" stroke-width="17.1" transform="translate(70.00 655.75) scale(0.00879 -0.00879)"/><use href="#g2" stroke="#000" stroke-width="17.1" transform="translate(80.01 655.75) scale(0.00879 -0.00879)"/>
<use href="#g2" stroke="#000" stroke-width="17.1" transform="translate(205.44 655.75) scale(0.00879 -0.00879)"/>
<use href="#g1" stroke="#000" stroke-width="17.1" transform="translate(335.74 655.75) scale(0.00879 -0.00879)"/><use href="#g2" stroke="#000" stroke-width="17.1" transform="translate(345.75 655.75) scale(0.00879 -0.00879)"/>
<use href="#g3" stroke="#000" stroke-width="17.1" transform="translate(471.04 655.75) scale(0.00879 -0.00879)"/><use href="#g2" stroke="#000" stroke-width="17.1" transform="translate(481.05 655.75) scale(0.00879 -0.00879)"/>
<use href="#g4" stroke="#000" stroke-width="17.1" transform="translate(606.34 655.75) scale(0.00879 -0.00879)"/><use href="#g2" stroke="#000" stroke-width="17.1" transform="translate(616.35 655.75) scale(0.00879 -0.00879)"/>
<use href="#g0" stroke="#000" stroke-width="17.1" transform="translate(39.46 640.45) scale(0.00879 -0.00879)"/><use href="#g1" stroke="#000" stroke-width="17.1" transform="translate(49.18 640.45) scale(0.00879 -0.00879)"/><use href="#g2" stroke="#000" stroke-width="17.1" transform="translate(59.19 640.45) scale(0.00879 -0.00879)"/>
<use href="#g0" stroke="#000" stroke-width="17.1" transform="translate(49.47 572.90) scale(0.00879 -0.00879)"/><use href="#g5" stroke="#000" stroke-width="17.1" transform="translate(59.19 572.90) scale(0.00879 -0.00879)"/>
<use href="#g2" stroke="#000" stroke-width="17.1" transform="translate(59.19 505.35) scale(0.00879 -0.00879)"/>
<use href="#g5" stroke="#000" stroke-width="17.1" transform="translate(59.19 437.80) scale(0.00879 -0.00879)"/>
<use href="#g1" stroke="#000" stroke-width="17.1" transform="translate(49.18 370.25) scale(0.00879 -0.00879)"/><use href="#g2" stroke="#000" stroke-width="17.1" transform="translate(59.19 370.25) scale(0.00879 -0.00879)"/>
<use href="#g6" transform="translate(354.40 700.30) scale(0.01320 -0.01245)"/>
<path d="M368.90 700.70h1.9l5.0 -18.3h-1.9z"/>
<use href="#g7" transform="translate(378.30 700.30) scale(0.01307 -0.01245)"/>
<g transform="translate(18.0 522.45) rotate(-90)"><use href="#g8" transform="translate(0.00 0.00) scale(0.01245 -0.01245)"/><path d="M13.60 0.40h1.9l5.0 -18.3h-1.9z"/><use href="#g7" transform="translate(23.80 0.00) scale(0.01307 -0.01245)"/></g>
<rect x="569.50" y="374.35" width="95.10" height="44.25" fill="#fff" stroke="#000" stroke-width="3"/>
<use href="#g9" transform="translate(577.60 404.70) scale(0.01236 -0.01094)"/>
<use href="#g10" stroke="#000" stroke-width="18.7" transform="translate(588.60 408.30) scale(0.00801 -0.00801)"/>
<rect x="606.30" y="392.75" width="13.60" height="1.9"/><rect x="606.30" y="398.00" width="13.60" height="1.9"/>
<use href="#g0" stroke="#000" stroke-width="13.5" transform="translate(628.00 404.47) scale(0.01108 -0.01108)"/>
<use href="#g10" stroke="#000" stroke-width="13.5" transform="translate(640.80 404.60) scale(0.01197 -0.01108)"/>
</svg>
</body></html>
